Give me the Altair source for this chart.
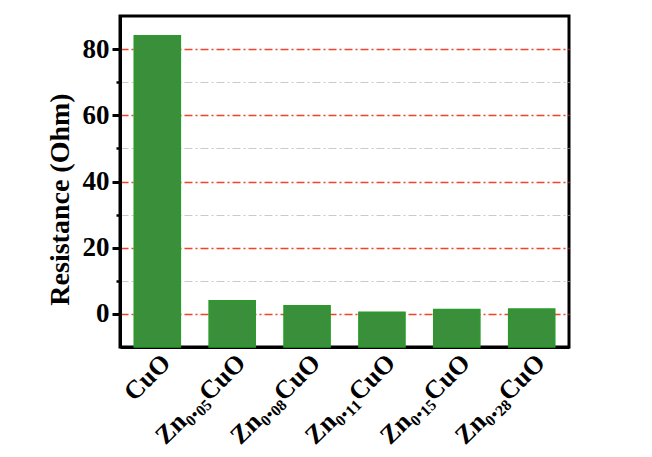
import altair as alt
import pandas as pd

categories = ["CuO", "Zn₀.₀₅CuO", "Zn₀.₀₈CuO", "Zn₀.₁₁CuO", "Zn₀.₁₅CuO", "Zn₀.₂₈CuO"]
resistance = [84.0, 4.0, 2.5, 0.5, 1.3, 1.5]
major_ticks = [0, 20, 40, 60, 80]
minor_ticks = [10, 30, 50, 70]

df = pd.DataFrame({"cat": categories, "r": resistance})

FONT = "Liberation Serif"
yscale = alt.Scale(domain=[-10, 90], nice=False, zero=False)
xenc = alt.X("cat:N", sort=categories,
             scale=alt.Scale(paddingInner=0.384, paddingOuter=0.19),
             axis=alt.Axis(title=None, labelAngle=-45, labelFont=FONT, labelFontSize=26,
                           labelFontWeight="bold", labelColor="black", ticks=False,
                           domainColor="black", domainWidth=3, labelPadding=2))

minor = alt.Chart(df).mark_bar(opacity=0).encode(
    x=xenc,
    y=alt.Y("r:Q", scale=yscale,
            axis=alt.Axis(orient="left", values=minor_ticks, labels=False, title=None,
                          domain=False, tickSize=4, tickWidth=2.5, tickColor="black",
                          grid=True, gridColor="#c9c9d2", gridWidth=1.2,
                          gridDash=[8, 3, 2, 3])),
)

bars = alt.Chart(df).mark_bar(fill="#3a8f3a", stroke="#2b9a2b", strokeWidth=1.5).encode(
    x=xenc,
    y=alt.Y("r:Q", scale=yscale,
            axis=alt.Axis(orient="left", values=major_ticks, title="Resistance (Ohm)",
                          titleFont=FONT, titleFontSize=28, titleFontWeight="bold",
                          titleColor="black", titlePadding=8, titleY=183,
                          labelFont=FONT, labelFontSize=27, labelFontWeight="bold",
                          labelColor="black", labelPadding=3,
                          domainColor="black", domainWidth=3,
                          tickSize=8, tickWidth=3, tickColor="black",
                          grid=True, gridColor="#f0442a", gridWidth=1.5,
                          gridDash=[8, 3, 2, 3])),
    y2=alt.datum(-10),
)

chart = alt.layer(minor, bars).resolve_axis(y="independent").properties(
    width=449, height=331,
    background="white",
    autosize=alt.AutoSizeParams(type="none"),
    padding={"left": 112, "top": 8, "right": 60, "bottom": 110},
).configure_view(stroke="black", strokeWidth=3)

chart.save("out.html", embed_options={"renderer": "svg", "actions": False})
